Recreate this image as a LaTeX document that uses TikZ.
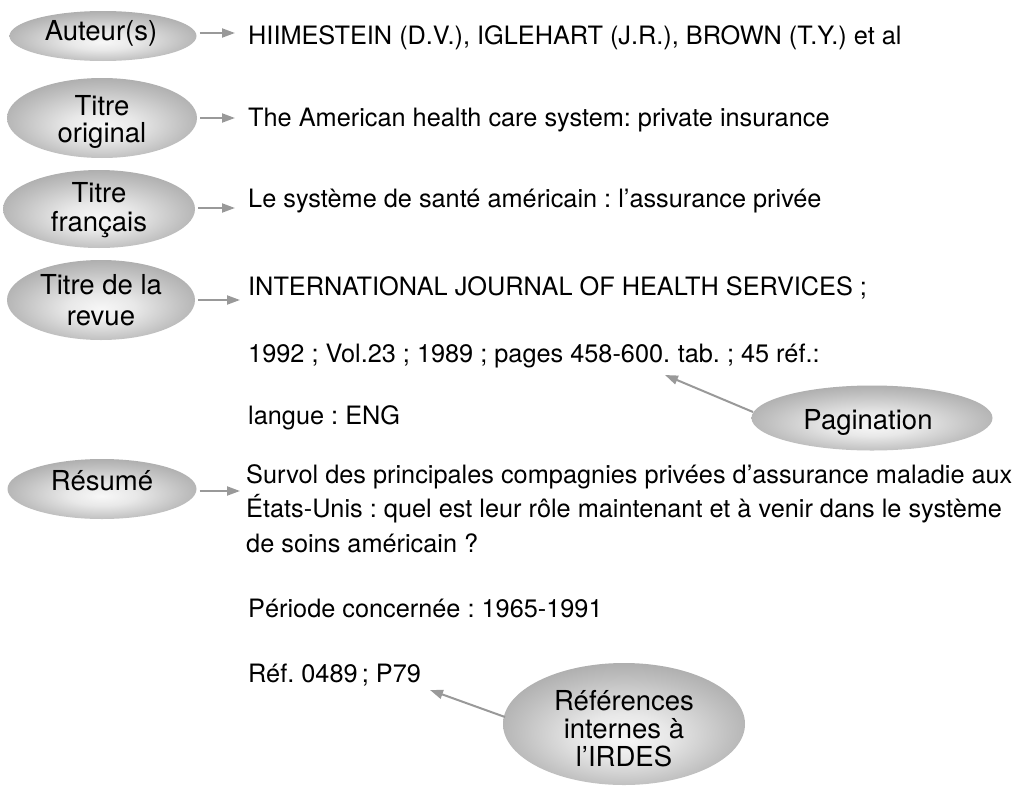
\documentclass[tikz,border=0pt]{standalone}
\usepackage{fontspec}
\setmainfont{TeX Gyre Heros}
\usetikzlibrary{arrows.meta,shapes.geometric}
\pgfdeclareradialshading{ellshade}{\pgfpoint{0bp}{-6bp}}{%
  color(0bp)=(black!3); color(9bp)=(black!9); color(22bp)=(black!25); color(30bp)=(black!34); color(50bp)=(black!34)}
\tikzset{
  ell/.style={ellipse, shading=ellshade, draw=none, inner sep=0pt},
  etext/.style={font=\fontsize{27.5}{28}\selectfont, align=center, inner sep=0pt},
  body/.style={font=\fontsize{25.3}{30}\selectfont, anchor=base west, inner sep=0pt},
  arr/.style={draw=black!40, line width=2pt, -{Triangle[length=13pt,width=9pt]}},
}
\frenchspacing
\begin{document}
\begin{tikzpicture}[x=1pt,y=-1pt]
\useasboundingbox (0,0) rectangle (1027,787);
% ellipses
\node[ell, minimum width=187pt, minimum height=50pt] (auteur) at (103,36) {};
\node[ell, minimum width=190pt, minimum height=80pt] (titreo) at (102,118) {};
\node[ell, minimum width=192pt, minimum height=78pt] (titref) at (99,209) {};
\node[ell, minimum width=188pt, minimum height=80pt] (titrer) at (101,300) {};
\node[ell, minimum width=189pt, minimum height=60pt] (resume) at (102,489) {};
\node[ell, minimum width=241pt, minimum height=65pt] (pag) at (872,418) {};
\node[ell, minimum width=242pt, minimum height=122pt] (refs) at (624,724) {};
% ellipse texts
\node[etext] (tAuteur) at (101,33) {Auteur(s)};
\node[etext, font=\fontsize{27.5}{26.5}\selectfont] (tTitreo) at (102,122) {Titre\\original};
\node[etext, font=\fontsize{27.5}{29}\selectfont] (tTitref) at (99,210) {Titre\\français};
\node[etext, font=\fontsize{27.5}{31}\selectfont] (tTitrer) at (101,300) {Titre de la\\revue};
\node[etext] (tResume) at (102,481) {Résumé};
\node[etext] (tPag) at (868,422) {Pagination};
\node[etext, font=\fontsize{27.5}{28}\selectfont] (tRefs) at (624,729) {Références\\internes à\\l’IRDES};
% body texts
\node[body] (l1) at (248,44) {HIIMESTEIN (D.V.), IGLEHART (J.R.), BROWN (T.Y.) et al};
\node[body] (l2) at (248,126) {The American health care system: private insurance};
\node[body] (l3) at (248,207) {Le système de santé américain : l’assurance privée};
\node[body] (l4) at (248,295) {INTERNATIONAL JOURNAL OF HEALTH SERVICES ;};
\node[body] (l5) at (248,362) {1992 ; Vol.23 ; 1989 ; pages 458-600.\hspace{0.3em}tab. ; 45 réf.:};
\node[body] (l6) at (248,424) {langue : ENG};
\node[body] (l7) at (246,483) {Survol des principales compagnies privées d’assurance maladie aux};
\node[body] (l8) at (246,517) {États-Unis : quel est leur rôle maintenant et à venir dans le système};
\node[body] (l9) at (246,552) {de soins américain ?};
\node[body] (l10) at (248,617) {Période concernée : 1965-1991};
\node[body] (l11) at (248,682) {Réf. 0489\,; P79};
% arrow end coordinates
\coordinate (a1) at (235,33);
\coordinate (a2) at (235,118);
\coordinate (a3) at (235,208);
\coordinate (a4) at (240,300);
\coordinate (a5) at (240,491);
\coordinate (pagtip) at (665,375);
\coordinate (reftip) at (430,690);
\draw[arr] (auteur.east |- a1) ++(3,0) -- (a1);
\draw[arr] (titreo.east |- a2) ++(3,0) -- (a2);
\draw[arr] (titref.east |- a3) ++(3,0) -- (a3);
\draw[arr] (titrer.east |- a4) ++(3,0) -- (a4);
\draw[arr] (resume.east |- a5) ++(3,0) -- (a5);
\draw[arr] (pag) ++(-119,-6) -- (pagtip);
\draw[arr] (refs) ++(-119,-7) -- (reftip);
\end{tikzpicture}
\end{document}
